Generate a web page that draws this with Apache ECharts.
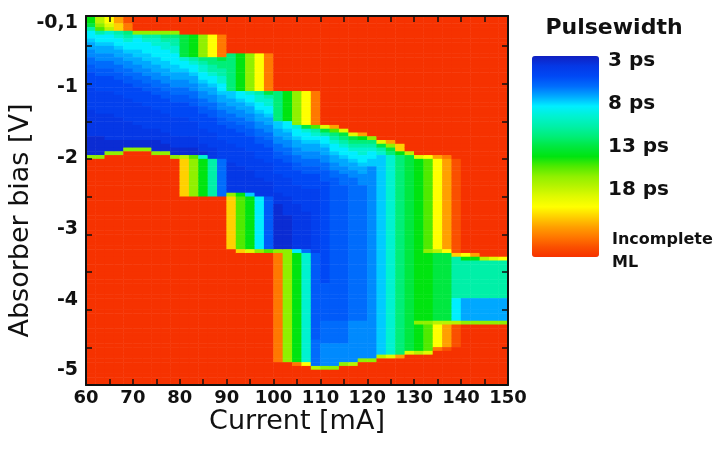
<!DOCTYPE html>
<html><head><meta charset="utf-8">
<script src="https://cdn.jsdelivr.net/npm/echarts@6/dist/echarts.min.js"></script>
<style>html,body{margin:0;padding:0;background:#fff}#chart{width:713px;height:452px}</style>
</head><body><div id="chart"></div>
<script>
// Cell centres of the map (2 mA x 0.05 V cells)
const currents = [61,63,65,67,69,71,73,75,77,79,81,83,85,87,89,91,93,95,97,99,101,103,105,107,109,111,113,115,117,119,121,123,125,127,129,131,133,135,137,139,141,143,145,147,149]; // mA
const biases = [
  -0.125,-0.175,-0.225,-0.275,-0.325,-0.375,-0.425,-0.475,-0.525,-0.575,
  -0.625,-0.675,-0.725,-0.775,-0.825,-0.875,-0.925,-0.975,-1.025,-1.075,
  -1.125,-1.175,-1.225,-1.275,-1.325,-1.375,-1.425,-1.475,-1.525,-1.575,
  -1.625,-1.675,-1.725,-1.775,-1.825,-1.875,-1.925,-1.975,-2.025,-2.075,
  -2.125,-2.175,-2.225,-2.275,-2.325,-2.375,-2.425,-2.475,-2.525,-2.575,
  -2.625,-2.675,-2.725,-2.775,-2.825,-2.875,-2.925,-2.975,-3.025,-3.075,
  -3.125,-3.175,-3.225,-3.275,-3.325,-3.375,-3.425,-3.475,-3.525,-3.575,
  -3.625,-3.675,-3.725,-3.775,-3.825,-3.875,-3.925,-3.975,-4.025,-4.075,
  -4.125,-4.175,-4.225,-4.275,-4.325,-4.375,-4.425,-4.475,-4.525,-4.575,
  -4.625,-4.675,-4.725,-4.775,-4.825,-4.875,-4.925,-4.975]; // V

// Pulsewidth code letters (ps); 'z' = 23 ps = incomplete mode-locking
const codeLetters = 'abcdefghijklmnopqrstuvwxyz';
const codeValues = [3,3.5,4,4.5,5,5.5,6,6.5,7,7.5,8,9,10,11,12,13,14,15,16,17,18,19,20,21,22,23];

const Z10 = 'zzzzzzzzzz';
// One string per current column, rows from -0.125 V (top) to -4.975 V (bottom)
const pulsewidthColumns = [
  ['ppomkkjiihhggffeeeeddddddcccccccbbbbbr', Z10,Z10,Z10,Z10,Z10,Z10],
  ['ssrqmkkjiihhggffeeeeddddddccccccbbbbbr', Z10,Z10,Z10,Z10,Z10,Z10],
  ['uutslkkjiihhggffeeeeddddddcccccccbbbr', Z10,Z10,Z10,Z10,Z10,Z10,'z'],
  ['wwvvmlkkjiihhggffeeeeddddddccccccbbbr', Z10,Z10,Z10,Z10,Z10,Z10,'z'],
  ['yyxxnmlkkjiihhggffeeeeddddddcccccbbr', Z10,Z10,Z10,Z10,Z10,Z10,'zz'],
  ['zzzzrlkkkjjiihhggffeeeeddddddccccbbr', Z10,Z10,Z10,Z10,Z10,Z10,'zz'],
  ['zzzzrmlkkkjjiihhggffeeeeddddddcccbbr', Z10,Z10,Z10,Z10,Z10,Z10,'zz'],
  ['zzzzrmllkkkjjiihhggffeeeedddddcccbbbr', Z10,Z10,Z10,Z10,Z10,Z10,'z'],
  ['zzzzrnmllkkkjjiihhggffeeeedddddcccbbr', Z10,Z10,Z10,Z10,Z10,Z10,'z'],
  ['zzzzrnmmllkkkjjiihhggffeeeedddddcccbbr', Z10,Z10,Z10,Z10,Z10,Z10],
  ['zzzzzoooooolkkjiihhggffeeeedddddcccbbs', 'vvvvvvvvvv', Z10,Z10,Z10,Z10,Z10],
  ['zzzzzppppppmlkkjiihhggffeeeeddddcccbbq', 'rrrrrrrrrr', Z10,Z10,Z10,Z10,Z10],
  ['zzzzzrrrrrrnmllkkjiihhggffeeeeddddccbl', 'pppppppppp', Z10,Z10,Z10,Z10,Z10],
  ['zzzzzuuuuuunnmmlkkjiihhggffeeeeddddccc', 'mmmmmmmmmm', Z10,Z10,Z10,Z10,Z10],
  ['zzzzzxxxxxxonnmmllkkjiihhggffeeeeddddd', 'gggggggggg', Z10,Z10,Z10,Z10,Z10],
  [Z10, 'nnnnnnnnnn', 'jjiihhggffeeeedddddccccccccr', 'vvvvvvvvvv', 'vvvv', Z10,Z10,Z10,'zzzzzz'],
  [Z10, 'pppppppppp', 'kkjiihhggffeeeedddddcccccccp', 'qqqqqqqqqq', 'qqqq', 'v', Z10,Z10,Z10,'zzzzz'],
  [Z10, 'rrrrrrrrrr', 'lkkjiihhggffeeeedddddccccccj', 'pppppppppp', 'pppp', 't', Z10,Z10,Z10,'zzzzz'],
  [Z10, 'uuuuuuuuuu', 'mllkkjiihhggffeeeedddddccccc', 'kkkkkkkkkk', 'kkkk', 'r', Z10,Z10,Z10,'zzzzz'],
  [Z10, 'xxxxxxxxxx', 'omllkkjiihhggffeeeedddddcccc', 'ffffffffff', 'ffff', 'q', Z10,Z10,Z10,'zzzzz'],
  [Z10,Z10, 'nnnnnnnn', 'jjiihhggffeeeedddddccc', 'bbbbbbbbbbbb', 'r', 'xxxxxxxxxx', 'xxxxxxxxxx', 'xxxxxxxxx', 'zzzzzz'],
  [Z10,Z10, 'pppppppp', 'kkjiihhggffeeeedddddccccc', 'bbbbbbbbb', 'r', 'rrrrrrrrrr', 'rrrrrrrrrr', 'rrrrrrrrr', 'zzzzzz'],
  [Z10,Z10, 'rrrrrrrrr', 'lkkjiihhggffeeeeddddd', 'cccccccccccc', 'k', 'pppppppppp', 'pppppppppp', 'ppppppppp', 'x', 'zzzzz'],
  [Z10,Z10, 'uuuuuuuuu', 'olkkjiihhggffeeeedddddd', 'cccccccccc', 'g', 'llllllllll', 'llllllllll', 'lllllllll', 'u', 'zzzzz'],
  [Z10,Z10, 'xxxxxxxxx', 'qmlkjiihhggffeeee', 'dddddddddd', 'ddddddd', 'ffffffffff', 'ffffffffff', 'fff', 'ggggggg', 's', 'zzzz'],
  [Z10,Z10, 'zzzzzzzzz', 'tomkkjiihhggfff', 'eeeeeeeeee', 'eeeeeeeeee', 'eeeeeee', 'ffffffffff', 'gggggg', 'hhhhhh', 'r', 'zzzz'],
  [Z10,Z10, 'zzzzzzzzz', 'wqnmlkkjiihhgg', 'ffffffffff', 'ffffffffff', 'ffffffffff', 'ffffffff', 'gggggg', 'hhhhhh', 'r', 'zzzz'],
  [Z10,Z10,Z10, 'tonmlkkjiihhggg', 'ffffffffff', 'ffffffffff', 'ffffffffff', 'ffffff', 'gggggg', 'hhhhh', 'r', 'zzzzz'],
  [Z10,Z10,Z10, 'z', 'tonmlkkjiihh', 'gggggggggg', 'gggggggggg', 'gggggggggg', 'gggggggg', 'hhhhhhhhhh', 'h', 's', 'zzzzz'],
  [Z10,Z10,Z10, 'z', 'wpnmllkkjiihhh', 'gggggggggg', 'gggggggggg', 'gggggggggg', 'gggggg', 'hhhhhhhhhh', 'r', 'zzzzzz'],
  [Z10,Z10,Z10, 'zz', 'rnmlkkjj', 'hhhhhhhhhh', 'hhhhhhhhhh', 'hhhhhhhhhh', 'hhhhhhhhhh', 'hhhhhhhhhh', 'h', 'r', 'zzzzzz'],
  [Z10,Z10,Z10, 'zzz', 'toml', 'jjjjjjjjjj', 'jjjjjjjjjj', 'jjjjjjjjjj', 'jjjjjjjjjj', 'jjjjjjjjjj', 'jjj', 's', 'zzzzzzz'],
  [Z10,Z10,Z10, 'zzz', 'wron', 'llllllllll', 'llllllllll', 'llllllllll', 'llllllllll', 'llllllllll', 'lll', 't', 'zzzzzzz'],
  [Z10,Z10,Z10, 'zzzz', 'vvp', 'nnnnnnnnnn', 'nnnnnnnnnn', 'nnnnnnnnnn', 'nnnnnnnnnn', 'nnnnnnnnnn', 'nnn', 'w', 'zzzzzzz'],
  [Z10,Z10,Z10, 'zzzzzz', 's', 'oooooooooo', 'oooooooooo', 'oooooooooo', 'oooooooooo', 'oooooooooo', 'oo', 't', 'zzzzzzzz'],
  [Z10,Z10,Z10, 'zzzzzzz', 't', 'pppppppppp', 'pppppppppp', 'pppppppppp', 'pppppppppp', 'ppp', 'r', 'ppppppp', 's', 'zzzzzzzz'],
  [Z10,Z10,Z10, 'zzzzzzz', 'u', 'qqqqqqqqqq', 'qqqqqqqqqq', 'qqqq', 'r', 'pppppppppp', 'pppppppp', 'r', 'qqqqqqq', 't', 'zzzzzzzz'],
  [Z10,Z10,Z10, 'zzzzzzz', 'w', 'uuuuuuuuuu', 'uuuuuuuuuu', 'uuuu', 's', 'oooooooooo', 'oooooooo', 's', 'uuuuuu', 'x', 'zzzzzzzzz'],
  [Z10,Z10,Z10, 'zzzzzzz', 'x', 'wwwwwwwwww', 'wwwwwwwwww', 'wwww', 'u', 'oooooooooo', 'oooooooo', 's', 'wwwwww', 'y', 'zzzzzzzzz'],
  [Z10,Z10,Z10, 'zzzzzzzz', 'yyyyyyyyyy', 'yyyyyyyyyy', 'yyyyy', 'v', 'mmmmmmmmmmm', 'kkkkkk', 's', 'yyyyyy', Z10],
  [Z10,Z10,Z10,Z10,Z10,Z10, 'zzz', 'u', 'p', 'mmmmmmmmmm', 'iiiiii', 'r', Z10, 'zzzzzz'],
  [Z10,Z10,Z10,Z10,Z10,Z10, 'zzz', 'w', 'p', 'mmmmmmmmmm', 'iiiiii', 'r', Z10, 'zzzzzz'],
  [Z10,Z10,Z10,Z10,Z10,Z10, 'zzzz', 's', 'mmmmmmmmmm', 'iiiiii', 'r', Z10, 'zzzzzz'],
  [Z10,Z10,Z10,Z10,Z10,Z10, 'zzzz', 't', 'mmmmmmmmmm', 'iiiiii', 'r', Z10, 'zzzzzz'],
  [Z10,Z10,Z10,Z10,Z10,Z10, 'zzzz', 'u', 'mmmmmmmmmm', 'iiiiii', 'r', Z10, 'zzzzzz']
].map(parts => parts.join(''));

// Axis ticks and labels
const xTickLabelValues = [60,70,80,90,100,110,120,130,140,150];
const yTickLabelValues = [-0.1,-1,-2,-3,-4,-5];
const yTickMarks = [-5,-4.5,-4,-3.5,-3,-2.5,-2,-1.5,-1,-0.5];
const legendLabels = ['3 ps','8 ps','13 ps','18 ps'];
// colour for 3,4,5,...,23 ps
const colorStops = ['#1020c0','#0538e6','#0048f5','#006cfc','#00a8ff','#00eeff','#00f2d0','#00f0a8','#00ee78','#00e840','#00e410',
                    '#50ea00','#90f000','#b8f400','#e0fa00','#ffff00','#ffd000','#ffa000','#ff7800','#fa5000','#f63200'];

const heatData = [];
pulsewidthColumns.forEach((col, xi) => {
  if (col.length !== biases.length) throw new Error('column ' + xi + ' has length ' + col.length);
  for (let yi = 0; yi < col.length; yi++) {
    const k = codeLetters.indexOf(col[yi]);
    if (k < 0) throw new Error('bad code ' + col[yi]);
    heatData.push([xi, yi, codeValues[k]]);
  }
});

const ink = '#111';
const frameLine = {show: true, onZero: false, lineStyle: {color: ink, width: 2}};
const inTick = {show: true, inside: true, length: 6, lineStyle: {color: ink, width: 1.5}};
const tickFont = {fontFamily: 'DejaVu Sans', fontWeight: 'bold', color: ink};

const chart = echarts.init(document.getElementById('chart'));
chart.setOption({
  backgroundColor: '#fff',
  animation: false,
  grid: {left: 86, top: 16, width: 422, height: 369, outerBoundsMode: 'none'},
  xAxis: [
    {type: 'category', data: currents.map(String), show: false},
    {type: 'value', min: 60, max: 150, interval: 5, position: 'bottom', z: 10,
      axisLine: frameLine, axisTick: inTick, splitLine: {show: false},
      axisLabel: Object.assign({customValues: xTickLabelValues, margin: 4, fontSize: 18}, tickFont),
      name: 'Current [mA]', nameLocation: 'middle', nameGap: 23, nameMoveOverlap: false,
      nameTextStyle: {fontFamily: 'DejaVu Sans', fontSize: 27, color: ink}},
    {type: 'value', min: 60, max: 150, interval: 5, position: 'top', z: 10,
      axisLine: frameLine, axisTick: inTick, splitLine: {show: false}, axisLabel: {show: false}}
  ],
  yAxis: [
    {type: 'category', data: biases.map(String), inverse: true, show: false},
    {type: 'value', min: -5, max: -0.1, position: 'left', z: 10,
      axisLine: frameLine, axisTick: Object.assign({customValues: yTickMarks}, inTick),
      splitLine: {show: false}, axisLabel: {show: false},
      name: 'Absorber bias [V]', nameLocation: 'middle', nameGap: 52, nameMoveOverlap: false,
      nameTextStyle: {fontFamily: 'DejaVu Sans', fontSize: 27, color: ink, padding: [0, 40, 0, 0]}},
    {type: 'value', min: -5, max: -0.1, position: 'right', z: 10,
      axisLine: frameLine, axisTick: Object.assign({customValues: yTickMarks}, inTick),
      splitLine: {show: false}, axisLabel: {show: false}},
    {type: 'value', min: -5.205, max: 0, position: 'left', z: 10,
      axisLine: {show: false}, axisTick: {show: false}, splitLine: {show: false},
      axisLabel: Object.assign({customValues: yTickLabelValues, margin: 8, fontSize: 19,
        formatter: v => String(v).replace('.', ',')}, tickFont)}
  ],
  visualMap: {
    type: 'continuous', seriesIndex: 0, min: 3, max: 23, inverse: true,
    calculable: false, hoverLink: false, realtime: false,
    left: 532, top: 56, itemWidth: 67, itemHeight: 201, padding: 0,
    inRange: {color: colorStops}
  },
  graphic: [
    {type: 'text', x: 614, y: 28, style: {text: 'Pulsewidth', font: 'bold 22px "DejaVu Sans"', fill: ink, align: 'center', verticalAlign: 'middle'}}
  ].concat(legendLabels.map((t, i) => ({
    type: 'text', x: 608, y: 61 + i * 43,
    style: {text: t, font: 'bold 20px "DejaVu Sans"', fill: ink, align: 'left', verticalAlign: 'middle'}
  }))).concat([
    {type: 'text', x: 612, y: 240, style: {text: 'Incomplete', font: 'bold 16px "DejaVu Sans"', fill: ink, align: 'left', verticalAlign: 'middle'}},
    {type: 'text', x: 612, y: 263, style: {text: 'ML', font: 'bold 16px "DejaVu Sans"', fill: ink, align: 'left', verticalAlign: 'middle'}}
  ]),
  series: [{
    type: 'heatmap', xAxisIndex: 0, yAxisIndex: 0, data: heatData,
    emphasis: {disabled: true}, progressive: 0
  }]
});
</script>
</body></html>
